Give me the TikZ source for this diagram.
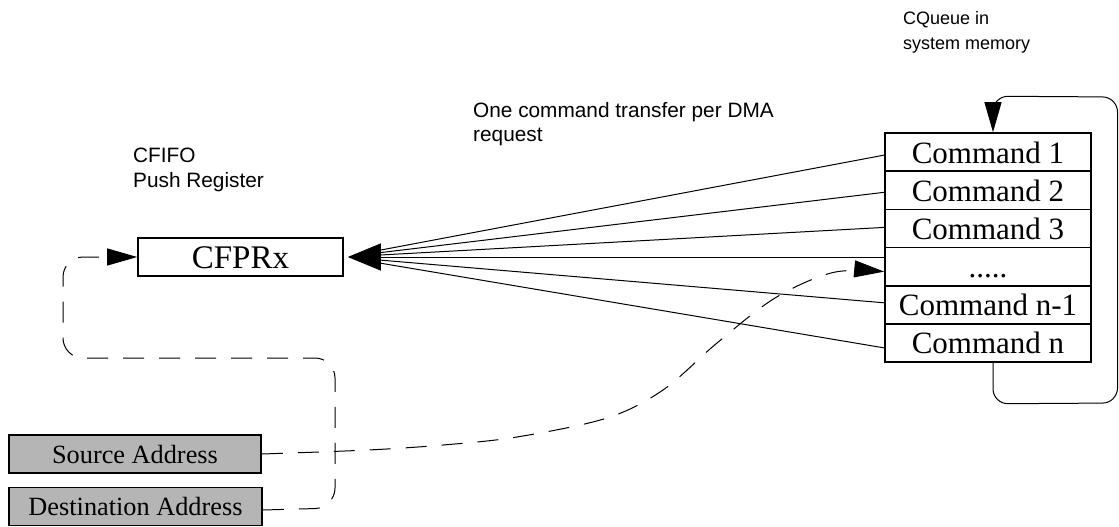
\documentclass[tikz,border=0pt]{standalone}
\usepackage{fontspec}
\setmainfont{Liberation Serif}
\newfontfamily\lblsans{Liberation Sans}
\usetikzlibrary{arrows.meta,calc}
\tikzset{
  regbox/.style={draw, line width=1.6pt, inner sep=0pt, minimum width=205pt, minimum height=38pt, text height=23pt, text depth=0pt, font=\fontsize{33}{37}\selectfont},
  cmdrow/.style={draw, line width=1.6pt, inner sep=0pt, minimum width=206pt, minimum height=38.17pt, text height=22pt, text depth=0pt, font=\fontsize{31}{35}\selectfont},
  addrbox/.style={draw, line width=1.6pt, fill=gray!58, inner sep=0pt, minimum height=38pt, text height=18pt, text depth=0pt, font=\fontsize{26.3}{30}\selectfont},
  lbl/.style={anchor=base west, inner sep=0pt, font=\lblsans\fontsize{20.8}{24}\selectfont},
  lblsmall/.style={anchor=base west, inner sep=0pt, font=\lblsans\fontsize{18}{22}\selectfont},
  fanline/.style={line width=1pt},
  dashline/.style={line width=1pt, dash pattern=on 21pt off 15pt},
  bigtip/.style={-{Triangle[length=33pt,width=27pt]}},
  smalltip/.style={-{Triangle[length=30pt,width=17pt]}},
}
\begin{document}
\begin{tikzpicture}[x=1pt,y=-1pt]
\useasboundingbox (0,0) rectangle (1119,527);

% labels
\node[lblsmall] (cq1) at (903,25) {CQueue in};
\node[lblsmall] (cq2) at (903,50) {system memory};
\node[lbl] (oc1) at (473,117) {One command transfer per DMA};
\node[lbl] (oc2) at (473,141) {request};
\node[lbl] (cf1) at (133,162) {CFIFO};
\node[lbl] (cf2) at (133,187) {Push Register};

% register
\node[regbox] (cfprx) at (240.5,257) {CFPRx};

% command queue
\node[cmdrow] (cmd1) at (988,152.1) {Command 1};
\node[cmdrow] (cmd2) at (988,190.3) {Command 2};
\node[cmdrow] (cmd3) at (988,228.4) {Command 3};
\node[cmdrow] (dots) at (988,266.6) {.....};
\node[cmdrow] (cmdm) at (988,304.8) {Command n-1};
\node[cmdrow] (cmdn) at (988,342.9) {Command n};

% address boxes
\node[addrbox, minimum width=252pt] (src) at (135,454) {Source Address};
\node[addrbox, minimum width=253pt] (dst) at (135.5,506.5) {Destination Address};

% fan of transfers
\draw[fanline, shorten >=16pt] ($(cmd1.west)+(0,3)$) -- (cfprx.east);
\draw[fanline, shorten >=16pt] ($(cmd2.west)+(0,2)$) -- (cfprx.east);
\draw[fanline, shorten >=16pt] ($(cmd3.west)+(0,-1)$) -- (cfprx.east);
\draw[fanline, shorten >=16pt] ($(cmdm.west)+(0,-2)$) -- (cfprx.east);
\draw[fanline, shorten >=16pt] ($(cmdn.west)+(0,5)$) -- (cfprx.east);
\draw[fanline, bigtip, shorten >=4pt] (dots.west |- cfprx.east) -- (cfprx.east);

% circular loop
\coordinate (lb) at ($(cmdn.south)+(5,0)$);
\coordinate (lt) at ($(cmd1.north)+(5,0)$);
\draw[line width=1pt, smalltip, rounded corners=15pt]
  (lb) -- ($(lb)+(0,41)$) -- (1117.5,403) -- (1117.5,97) -- ($(lt)+(0,-36)$) -- (lt);

% source address dashed path
\coordinate (srcend) at ($(dots.west)+(0,5)$);
\draw[dashline, smalltip] plot[smooth, tension=0.55] coordinates {
  (src.east) (368,450) (443,445) (517,437) (607,418) (663,390)
  (717,343) (775,298) (833,272.5) (srcend)};

% destination address dashed path
\draw[dashline, smalltip, rounded corners=20pt]
  ($(dst.east)+(0,3.5)$) -- (335,508) -- (335,358) -- (63,358) -- (63,257) -- (cfprx.west);
\end{tikzpicture}
\end{document}
